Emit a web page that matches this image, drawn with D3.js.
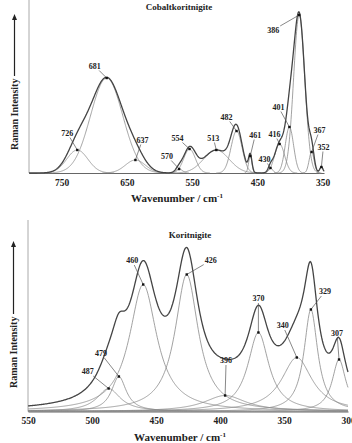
<!DOCTYPE html>
<html>
<head>
<meta charset="utf-8">
<script src="https://cdn.jsdelivr.net/npm/d3@7"></script>
<style>
body { margin: 0; background: #fff; }
text { font-family: "Liberation Serif", "Times New Roman", serif; font-weight: bold; fill: #222; }
</style>
</head>
<body>
<div id="chart"></div>
<script>
// Cobaltkoritnigite bands (position cm-1, height, fwhm)
var topPos = [726, 681, 637, 570, 554, 513, 482, 461, 430, 416, 401, 386, 367, 352];
var topHeight = [23, 95, 13, 4, 24, 23, 42, 17, 5, 29, 46, 158, 21, 6];
var topFwhm = [38, 58, 36, 12, 21, 46, 20, 6, 8, 18, 15, 20, 9, 6];
var topTicks = [750, 650, 550, 450, 350];

// Koritnigite bands
var botPos = [487, 479, 460, 426, 396, 370, 340, 329, 307];
var botHeight = [23, 35, 127, 137, 16, 79, 54, 102, 52];
var botFwhm = [22, 14, 26, 22, 40, 20, 29, 13, 13];
var botTicks = [550, 500, 450, 400, 350, 300];

// label offsets from band top (px)
var topLabelOff = [[-10,-17],[-12,-12],[7,-20],[-12,-13],[-12,-11],[-3,-12],[-10,-14],[5,-21],[-6,-9],[-5,-10],[-11,-20],[-26,15],[8,-22],[2,-20]];
var botLabelOff = [[-21,-17],[-18,-23],[-11,-24],[24,-14],[1,-35],[0,-34],[-14,-32],[14,-18],[-2,-26]];

var W = 352, H = 443;
var svg = d3.select("#chart").append("svg").attr("width", W).attr("height", H);

function gauss(x, c, h, f) { return h * Math.exp(-4 * Math.LN2 * (x - c) * (x - c) / (f * f)); }
function lorentz(x, c, h, f) { return h / (1 + 4 * (x - c) * (x - c) / (f * f)); }

function panel(o) {
    var x = d3.scaleLinear().domain(o.xdom).range([o.left, o.right]);
    var y = d3.scaleLinear().domain([0, o.ymax]).range([o.base, o.top]);
    var g = svg.append("g");
    var shape = o.shape;
    var grid = d3.range(o.xdom[1], o.xdom[0] + 0.25, 0.5);
    var bands = o.pos.map(function (p, i) { return {c: p, h: o.height[i], f: o.fwhm[i], off: o.off[i]}; });
    var line = d3.line().x(function (d) { return x(d[0]); }).y(function (d) { return y(d[1]); });

    // y axis line
    g.append("line").attr("x1", o.left).attr("x2", o.left).attr("y1", o.top - 2).attr("y2", o.base)
        .attr("stroke", "#aaa").attr("stroke-width", 1);

    // x axis
    var ax = g.append("g").attr("transform", "translate(0," + o.base + ")")
        .call(d3.axisBottom(x).tickValues(o.ticks).tickSize(0).tickPadding(6).tickFormat(d3.format("d")));
    ax.select(".domain").attr("stroke", "#666").attr("stroke-width", 1.2);
    ax.selectAll("text").attr("font-size", 9.5).attr("font-family", "Liberation Serif").attr("font-weight", "bold").attr("fill", "#222");

    // components
    bands.forEach(function (b) {
        var pts = grid.map(function (w) { return [w, shape(w, b.c, b.h, b.f)]; })
            .filter(function (d) { return d[1] > 0.05; });
        g.append("path").datum(pts).attr("d", line)
            .attr("fill", "none").attr("stroke", "#8a8a8a").attr("stroke-width", 0.8);
    });

    // envelope
    var env = grid.map(function (w) {
        return [w, d3.sum(bands, function (b) { return shape(w, b.c, b.h, b.f); })];
    });
    g.append("path").datum(env).attr("d", line)
        .attr("fill", "none").attr("stroke", "#444").attr("stroke-width", 1.3);

    // dots, leaders, labels
    bands.forEach(function (b) {
        var px = x(b.c), py = y(b.h);
        var lx = px + b.off[0], ly = py + b.off[1];
        var dx = px - lx, dy = py - ly;
        var t = Math.min(dx !== 0 ? 7 / Math.abs(dx) : 1, dy !== 0 ? 4.5 / Math.abs(dy) : 1);
        g.append("line").attr("x1", lx + t * dx).attr("y1", ly + t * dy).attr("x2", px).attr("y2", py)
            .attr("stroke", "#555").attr("stroke-width", 0.7);
        g.append("rect").attr("x", px - 1.2).attr("y", py - 1.2).attr("width", 2.4).attr("height", 2.4).attr("fill", "#111");
        g.append("text").attr("x", lx).attr("y", ly + 2.8).attr("text-anchor", "middle")
            .attr("font-size", 8).text(b.c);
    });

    // title
    g.append("text").attr("x", o.titleX).attr("y", o.titleY).attr("text-anchor", "middle")
        .attr("font-size", 9).text(o.title);

    // x axis title
    var xt = g.append("text").attr("x", o.xtX).attr("y", o.xtY).attr("text-anchor", "middle").attr("font-size", 11);
    xt.append("tspan").text("Wavenumber / cm");
    xt.append("tspan").attr("dy", -4).attr("font-size", 7).text("-1");

    // y axis title with arrow
    g.append("text").attr("transform", "translate(" + (o.left - 11) + "," + o.ylabBottom + ") rotate(-90)")
        .attr("font-size", 10).text("Raman Intensity");
    g.append("line").attr("x1", o.left - 14.5).attr("x2", o.left - 14.5)
        .attr("y1", o.ylabBottom - 74).attr("y2", o.arrowTop + 5)
        .attr("stroke", "#222").attr("stroke-width", 1.2);
    g.append("path").attr("d", "M" + (o.left - 17) + "," + (o.arrowTop + 6) + "L" + (o.left - 14.5) + "," + o.arrowTop +
        "L" + (o.left - 12) + "," + (o.arrowTop + 6) + "Z").attr("fill", "#222");
}

panel({
    xdom: [800, 348], left: 29, right: 324, base: 173, top: 0, ymax: 173,
    pos: topPos, height: topHeight, fwhm: topFwhm, off: topLabelOff, ticks: topTicks,
    shape: gauss, title: "Cobaltkoritnigite", titleX: 179, titleY: 10,
    xtX: 177, xtY: 202, ylabBottom: 150, arrowTop: 14
});

panel({
    xdom: [550, 300], left: 28, right: 348, base: 411.5, top: 222, ymax: 189.5,
    pos: botPos, height: botHeight, fwhm: botFwhm, off: botLabelOff, ticks: botTicks,
    shape: lorentz, title: "Koritnigite", titleX: 190, titleY: 238,
    xtX: 180, xtY: 441, ylabBottom: 388, arrowTop: 241
});
</script>
</body>
</html>
